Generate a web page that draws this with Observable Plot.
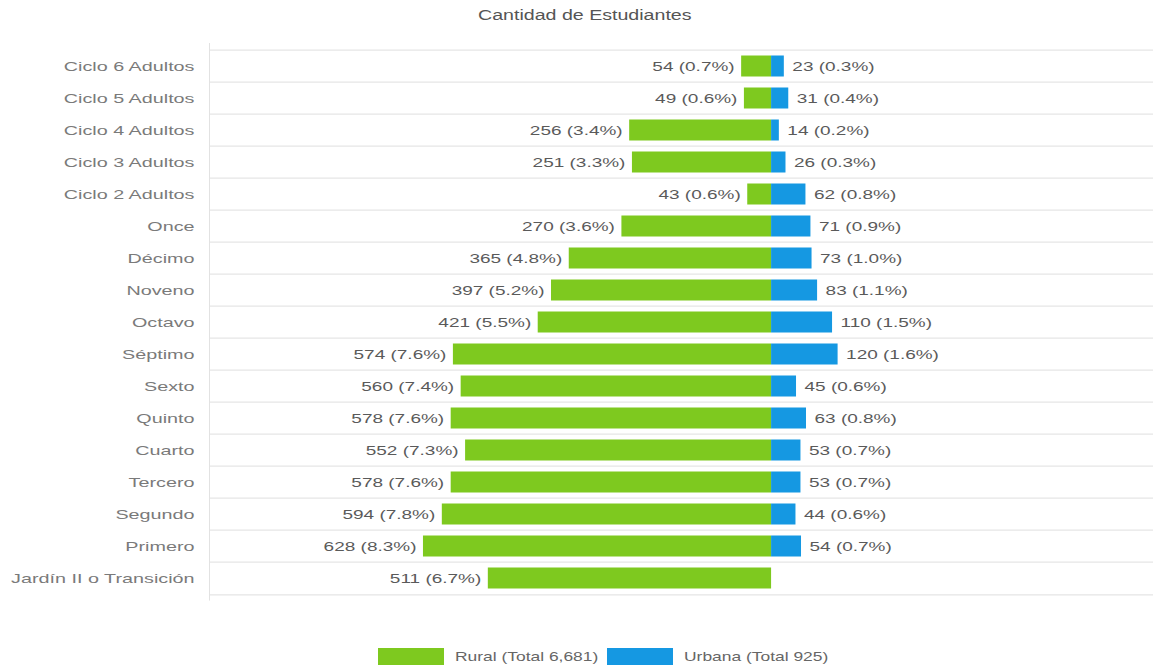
<!DOCTYPE html>
<html>
<head>
<meta charset="utf-8">
<script src="https://cdn.jsdelivr.net/npm/d3@7"></script>
<script src="https://cdn.jsdelivr.net/npm/@observablehq/plot@0.6"></script>
<style>
  html, body { margin: 0; padding: 0; background: #fff; }
  body { width: 1153px; height: 672px; position: relative; overflow: hidden; font-family: "Liberation Sans", Arial, sans-serif; }
  #title { position: absolute; top: 7px; left: 0; width: 1108px; text-align: center; font-size: 14px; color: #555; }
  #chart { position: absolute; top: 30px; left: 0; }
  #legend { position: absolute; top: 648px; left: 378px; display: flex; align-items: center; font-size: 13px; color: #666; }
  .sw { width: 66px; height: 17px; display: inline-block; margin-right: 11px; }
  .item { display: flex; align-items: center; margin-right: 9px; }
  .st { display: inline-block; white-space: nowrap; }
  .st > span { display: inline-block; transform-origin: left center; white-space: nowrap; }
</style>
</head>
<body>
<div id="title"><span class="st"><span>Cantidad de Estudiantes</span></span></div>
<div id="chart"></div>
<div id="legend"></div>
<script>
const categories = ["Ciclo 6 Adultos","Ciclo 5 Adultos","Ciclo 4 Adultos","Ciclo 3 Adultos","Ciclo 2 Adultos","Once","Décimo","Noveno","Octavo","Séptimo","Sexto","Quinto","Cuarto","Tercero","Segundo","Primero","Jardín II o Transición"];
const rural = [54,49,256,251,43,270,365,397,421,574,560,578,552,578,594,628,511];
const ruralPct = [0.7,0.6,3.4,3.3,0.6,3.6,4.8,5.2,5.5,7.6,7.4,7.6,7.3,7.6,7.8,8.3,6.7];
const urbana = [23,31,14,26,62,71,73,83,110,120,45,63,53,53,44,54,0];
const urbanaPct = [0.3,0.4,0.2,0.3,0.8,0.9,1.0,1.1,1.5,1.6,0.6,0.8,0.7,0.7,0.6,0.7,0];
const seriesNames = ["Rural (Total 6,681)", "Urbana (Total 925)"];
const colors = ["#7ec91f", "#1598e2"];

const rows = categories.map((c, i) => ({cat: c, rural: rural[i], rPct: ruralPct[i], urbana: urbana[i], uPct: urbanaPct[i]}));

const W = 1153, H = 583, mT = 13, mB = 12.4, mL = 209, mR = 0;
const bw = (H - mT - mB) / categories.length;
const xDomain = [-1014, 689];

const chart = Plot.plot({
  width: W, height: H,
  marginTop: mT, marginBottom: mB, marginLeft: mL, marginRight: mR,
  style: {fontFamily: "'Liberation Sans', Arial, sans-serif", fontSize: "13px", color: "#666", background: "#fff"},
  x: {domain: xDomain, axis: null},
  y: {domain: categories, padding: 0, label: null},
  marks: [
    Plot.ruleY(categories, {y: d => d, dy: -bw/2, stroke: "#dfdfdf"}),
    Plot.ruleY([categories[categories.length-1]], {y: d => d, dy: bw/2, stroke: "#dfdfdf"}),
    Plot.ruleX([xDomain[0]], {stroke: "#e2e2e2"}),
    Plot.barX(rows, {x1: d => -d.rural, x2: 0, y: "cat", fill: colors[0], insetTop: 5.5, insetBottom: 5.5}),
    Plot.barX(rows.filter(d => d.urbana > 0), {x1: 0, x2: "urbana", y: "cat", fill: colors[1], insetTop: 5.5, insetBottom: 5.5}),
    Plot.text(rows, {x: d => -d.rural, y: "cat", text: d => `${d.rural} (${d.rPct.toFixed(1)}%)`, textAnchor: "end", dx: -7, fill: "#5a5a5a", fontSize: 13, className: "val"}),
    Plot.text(rows.filter(d => d.urbana > 0), {x: "urbana", y: "cat", text: d => `${d.urbana} (${d.uPct.toFixed(1)}%)`, textAnchor: "start", dx: 8, fill: "#5a5a5a", fontSize: 13, className: "val"}),
    Plot.axisY({tickSize: 0, tickPadding: 15, label: null, fill: "#7a7a7a", fontSize: 13, className: "ylab"})
  ]
});
document.getElementById("chart").appendChild(chart);

// widen glyphs to match the reference's horizontally stretched lettering
function stretchSvgText(sel, k) {
  d3.select(chart).selectAll(sel).each(function() {
    const L = this.getComputedTextLength();
    if (L > 0) {
      this.setAttribute("textLength", L * k);
      this.setAttribute("lengthAdjust", "spacingAndGlyphs");
    }
  });
}
stretchSvgText(".val text", 1.46);
stretchSvgText(".ylab text", 1.52);

function stretchSpan(outer, k) {
  const inner = outer.firstChild;
  const w = inner.getBoundingClientRect().width;
  outer.style.width = (w * k) + "px";
  inner.style.transform = `scaleX(${k})`;
}

const legend = document.getElementById("legend");
seriesNames.forEach((n, i) => {
  const item = document.createElement("div");
  item.className = "item";
  const sw = document.createElement("span");
  sw.className = "sw";
  sw.style.background = colors[i];
  const t = document.createElement("span");
  t.className = "st";
  const ti = document.createElement("span");
  ti.textContent = n;
  t.appendChild(ti);
  item.appendChild(sw);
  item.appendChild(t);
  legend.appendChild(item);
  stretchSpan(t, 1.34);
});
stretchSpan(document.querySelector("#title .st"), 1.4);
</script>
</body>
</html>
